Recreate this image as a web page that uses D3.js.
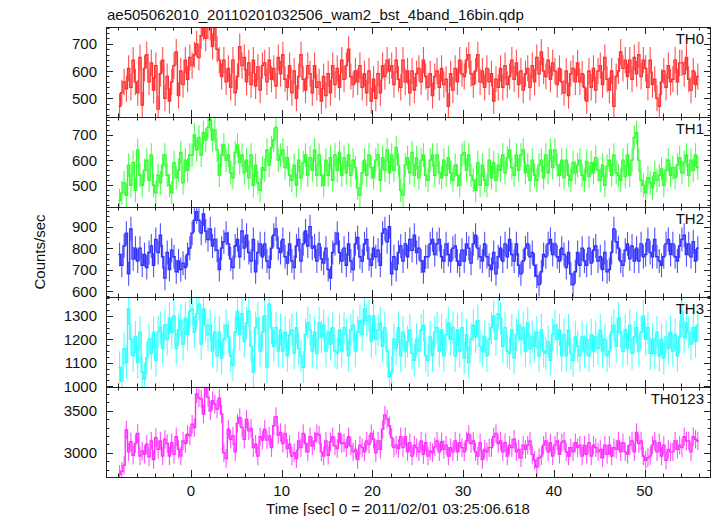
<!DOCTYPE html>
<html><head><meta charset="utf-8">
<script src="https://cdn.jsdelivr.net/npm/d3@7"></script>
<style>body{margin:0;background:#fff} svg text{font-family:"Liberation Sans",Arial,Helvetica,sans-serif;fill:#111}</style>
</head><body><svg id="c" width="717" height="516"></svg>
<script>
const titleText = "ae505062010_20110201032506_wam2_bst_4band_16bin.qdp";
const xLabel = "Time [sec] 0 = 2011/02/01 03:25:06.618";
const yLabel = "Counts/sec";
const startTime = -8, binWidth = 0.25;
const xTicks = [0, 10, 20, 30, 40, 50];
const panelNames = ["TH0", "TH1", "TH2", "TH3", "TH0123"];
const panelErrors = [48, 47, 56, 69, 110];
const yTicksTH0 = [500, 600, 700];
const yTicksTH1 = [500, 600, 700];
const yTicksTH2 = [600, 700, 800, 900];
const yTicksTH3 = [1000, 1100, 1200, 1300];
const yTicksTH0123 = [3000, 3500];

const th0 = [
470,520,560,535, 610,540,640,560, 520,650,475,610, 660,560,630,530, 620,460,590,640, 500,580,490,560,
620,670,510,600, 550,640,570,650, 620,660,700,650, 730,760,720,765, 760,690,760,680, 640,580,640,560,
610,540,640,520, 580,690,620,650, 560,630,550,640, 545,615,530,620, 630,560,640,570, 610,545,650,590,
660,570,540,620, 520,600,500,580, 660,570,530,620, 590,520,620,540, 560,490,580,510, 590,520,620,550,
610,540,640,570, 620,680,580,550, 600,560,620,540, 590,520,600,490, 570,500,590,520, 620,580,640,600,
620,550,640,570, 540,640,560,600, 520,600,530,590, 610,560,640,580, 540,590,510,580, 600,540,610,550,
570,470,590,530, 610,560,640,590, 580,640,660,590, 550,600,660,560, 600,540,610,560, 590,490,570,540,
610,540,620,550, 580,640,570,630, 550,600,530,590, 610,540,620,560, 650,590,670,600, 580,640,570,630,
600,550,610,560, 520,600,510,590, 610,560,630,560, 590,540,490,600, 540,610,530,600, 620,550,650,570,
530,600,470,580, 600,670,610,640, 580,640,570,650, 590,660,580,640, 610,540,640,550, 570,500,470,560,
600,540,620,560, 570,640,560,630, 630,590,650,570, 530,600,550,580];

const th1 = [
440,470,510,460, 580,500,590,480, 640,540,500,560, 600,520,620,500, 470,540,510,580, 620,540,500,470,
590,530,560,630, 510,600,560,620, 620,700,640,690, 620,710,680,730, 760,680,720,640, 540,620,660,600,
620,550,530,630, 660,590,620,550, 600,530,620,500, 580,510,480,570, 560,640,580,650, 680,730,600,620,
640,570,610,540, 520,580,500,600, 530,590,620,540, 610,560,640,540, 620,540,500,600, 540,610,520,620,
560,630,540,610, 550,620,540,600, 570,490,460,550, 600,540,620,570, 530,600,620,520, 610,560,640,550,
620,560,650,580, 480,460,580,610, 550,630,540,610, 530,600,620,540, 520,600,620,540, 620,550,530,600,
540,610,550,520, 580,540,500,620, 630,560,620,540, 520,480,590,500, 580,520,500,600, 530,590,520,580,
560,620,550,610, 640,570,540,620, 560,620,640,550, 580,520,600,540, 520,580,600,530, 620,550,640,570,
640,580,540,600, 530,600,540,520, 590,550,580,600, 540,520,595,535, 590,550,610,560, 520,580,500,575,
600,540,620,550, 540,520,600,535, 620,540,600,690, 710,600,520,500, 470,530,510,490, 550,520,540,565,
500,560,600,540, 570,530,580,610, 550,590,620,540, 600,560,620,570];

const th2 = [
770,720,810,870, 680,890,750,800, 740,800,720,770, 710,780,810,720, 840,780,860,760, 660,780,700,790,
760,690,740,700, 730,710,770,800, 870,930,970,930, 870,960,880,840, 890,810,840,790, 700,800,830,870,
820,750,710,810, 840,760,880,800, 860,780,740,840, 690,780,820,760, 820,740,710,800, 860,890,800,780,
840,760,730,820, 740,710,810,840, 740,820,880,810, 900,800,810,740, 820,750,730,800, 700,660,780,820,
870,780,740,800, 720,820,740,700, 820,850,760,740, 820,840,750,720, 800,760,790,720, 870,890,830,900,
680,760,700,780, 810,740,820,760, 840,790,860,780, 800,740,690,760, 760,820,840,770, 820,840,760,740,
820,770,740,800, 810,740,720,790, 740,820,800,730, 820,860,800,760, 740,820,760,720, 700,780,680,760,
800,740,820,760, 840,770,740,820, 720,680,740,800, 820,760,780,720, 670,630,690,770, 760,820,840,770,
820,760,740,800, 770,710,780,680, 630,690,780,720, 800,740,720,800, 730,790,810,740, 760,700,780,690,
700,780,890,830, 800,740,720,790, 820,750,810,740, 800,740,820,760, 770,840,780,760, 840,760,740,720,
760,820,840,770, 820,760,740,810, 840,860,770,820, 760,830,740,800];

const th3 = [
1080,1020,1160,1100, 1330,1200,1130,1210, 1100,1230,1060,1030, 1120,1200,1140,1230, 1110,1230,1250,1160,
1260,1200,1290,1230, 1300,1160,1240,1280, 1180,1290,1220,1320, 1330,1230,1310,1350, 1180,1330,1260,1220,
1260,1150,1230,1130, 1230,1120,1200,1260, 1210,1130,1090,1230, 1320,1220,1310,1190, 1270,1320,1170,1060,
1250,1290,1150,1230, 1300,1080,1350,1250, 1170,1250,1150,1240, 1150,1230,1130,1220, 1240,1140,1250,1160,
1130,1080,1220,1270, 1240,1150,1230,1140, 1270,1210,1260,1150, 1230,1180,1250,1150, 1140,1240,1150,1250,
1220,1130,1240,1260, 1150,1230,1280,1220, 1330,1280,1300,1190, 1300,1200,1240,1270, 1170,1250,1150,1040,
1060,1200,1160,1250, 1130,1230,1150,1190, 1240,1140,1110,1200, 1150,1240,1260,1130, 1110,1210,1130,1230,
1250,1150,1240,1130, 1220,1270,1200,1250, 1130,1240,1150,1250, 1120,1220,1100,1200, 1260,1210,1280,1170,
1150,1210,1130,1200, 1250,1300,1200,1310, 1290,1170,1250,1150, 1140,1240,1120,1220, 1260,1200,1250,1150,
1270,1160,1210,1170, 1230,1130,1240,1150, 1140,1190,1110,1220, 1260,1200,1240,1130, 1220,1130,1240,1140,
1110,1210,1170,1130, 1210,1150,1200,1130, 1220,1150,1210,1160, 1240,1150,1200,1130, 1150,1230,1260,1170,
1290,1230,1150,1240, 1160,1260,1140,1210, 1250,1150,1230,1300, 1200,1250,1140,1200, 1140,1230,1130,1200,
1120,1210,1160,1230, 1150,1220,1130,1210, 1320,1210,1270,1230, 1180,1250,1190,1260];

const th0123 = [
2740,2780,2850,3270, 3010,3130,2970,3110, 3230,2960,3020,2980, 3100,2950,3140,2920, 3180,3040,3140,2960,
3160,3110,2960,3120, 2980,3190,3040,2960, 3140,3110,3220,3200, 3340,3300,3700,3650, 3640,3460,3780,3660,
3500,3620,3580,3520, 3650,3460,3000,2930, 3280,3160,3200,3010, 3350,3420,3300,3160, 3400,3260,3290,3060,
3100,2960,3190,3150, 3280,3150,3200,3060, 3320,3430,3210,3240, 3110,3230,3050,3100, 2960,3000,2930,3140,
3060,3230,3110,3010, 3190,3080,3140,3230, 3210,3010,2960,3140, 2970,3130,3190,3080, 3050,3230,3110,3120,
3060,3190,3080,3010, 3040,2920,3090,3060, 3010,3140,3100,3230, 3160,3000,3140,3040, 3280,3450,3400,3320,
3180,3060,3090,3050, 3190,3060,3190,3010, 3120,2960,3090,3060, 3010,3140,2980,3120, 2960,3020,3000,3070,
3140,3010,3130,3040, 3090,2960,3060,3010, 3140,3010,3120,3060, 3010,3140,3220,3110, 3140,3010,2960,3120,
2920,3040,3010,3060, 3060,3190,3230,3110, 3140,3010,3120,2960, 3090,3060,3160,3010, 3040,2940,3090,3040,
3090,3140,2980,2910, 2830,2940,2960,3090, 3140,3010,3120,2960, 3090,3140,2980,3120, 3140,3010,2960,3060,
3010,3120,3060,3090, 2960,3090,2980,3120, 2960,3090,3060,3010, 3040,2940,3090,2980, 3090,2960,3060,3040,
3140,3010,3120,3010, 2980,3090,3140,3010, 3240,3110,3140,2960, 2910,2940,2960,3090, 3140,3010,3120,2960,
3090,2910,3040,3010, 3010,3140,3040,3090, 3060,3190,3140,3140, 3010,3190,3160,3140];

const seriesList = [th0, th1, th2, th3, th0123];
const tickLists = [yTicksTH0, yTicksTH1, yTicksTH2, yTicksTH3, yTicksTH0123];
const colors = ["#ff3030", "#30ff30", "#3030ff", "#30ffff", "#ff30ff"];
const yDomains = [[431, 762], [414, 771], [572, 992], [996, 1381], [2711, 3782]];
const minorSteps = [20, 20, 25, 25, 100];

const svg = d3.select("#c");
const plotLeft = 106, plotRight = 711, plotTop = 27, panelH = 90;
const x = d3.scaleLinear().domain([-9.37, 57.33]).range([plotLeft, plotRight]);
const frameColor = "#222";

svg.append("text").attr("x", 107).attr("y", 20).attr("font-size", 15).text(titleText);

seriesList.forEach((vals, p) => {
  const y0 = plotTop + p * panelH, y1 = y0 + panelH;
  const y = d3.scaleLinear().domain(yDomains[p]).range([y1, y0]);
  const g = svg.append("g");
  const clipId = "clip" + p;
  svg.append("clipPath").attr("id", clipId).append("rect")
    .attr("x", plotLeft).attr("y", y0).attr("width", plotRight - plotLeft).attr("height", panelH);
  const pts = vals.map((v, i) => ({t: startTime + (i + 0.5) * binWidth, v}));
  const dg = g.append("g").attr("clip-path", `url(#${clipId})`);
  const err = panelErrors[p];
  dg.selectAll("line.err").data(pts).enter().append("line")
    .attr("x1", d => x(d.t)).attr("x2", d => x(d.t))
    .attr("y1", d => y(d.v - err)).attr("y2", d => y(d.v + err))
    .attr("stroke", colors[p]).attr("stroke-width", 1.1).attr("stroke-opacity", 0.85);
  const line = d3.line().x(d => x(d.t)).y(d => y(d.v)).curve(d3.curveStep);
  const ext = [{t: pts[0].t - binWidth / 2, v: pts[0].v}, ...pts, {t: pts[pts.length - 1].t + binWidth / 2, v: pts[pts.length - 1].v}];
  dg.append("path").attr("d", line(ext)).attr("fill", "none")
    .attr("stroke", colors[p]).attr("stroke-width", 1.4);

  g.append("rect").attr("x", plotLeft + 0.5).attr("y", y0 + 0.5).attr("width", plotRight - plotLeft - 1).attr("height", panelH)
    .attr("fill", "none").attr("stroke", frameColor).attr("stroke-width", 1);
  const [ymin, ymax] = yDomains[p];
  const mstep = minorSteps[p];
  const minors = d3.range(Math.ceil(ymin / mstep) * mstep, ymax, mstep);
  const majors = tickLists[p];
  minors.forEach(v => {
    const isMaj = majors.includes(v);
    const L = isMaj ? 7 : 3.5;
    const yy = Math.round(y(v)) + 0.5;
    g.append("line").attr("x1", plotLeft).attr("x2", plotLeft + L).attr("y1", yy).attr("y2", yy).attr("stroke", frameColor);
    g.append("line").attr("x1", plotRight).attr("x2", plotRight - L).attr("y1", yy).attr("y2", yy).attr("stroke", frameColor);
  });
  majors.forEach(v => {
    g.append("text").attr("x", 97).attr("y", y(v) + 5.5).attr("text-anchor", "end")
      .attr("font-size", 15).text(v);
  });
  d3.range(-8, 57, 2).forEach(t => {
    const isMaj = t % 10 === 0;
    const L = isMaj ? 7 : 3.5;
    const xx = Math.round(x(t)) + 0.5;
    g.append("line").attr("x1", xx).attr("x2", xx).attr("y1", y0).attr("y2", y0 + L).attr("stroke", frameColor);
    g.append("line").attr("x1", xx).attr("x2", xx).attr("y1", y1).attr("y2", y1 - L).attr("stroke", frameColor);
  });
  g.append("text").attr("x", 704).attr("y", y0 + 17).attr("text-anchor", "end")
    .attr("font-size", 15).text(panelNames[p]);
});

const plotBottom = plotTop + 5 * panelH;
xTicks.forEach(t => {
  svg.append("text").attr("x", x(t)).attr("y", plotBottom + 19).attr("text-anchor", "middle")
    .attr("font-size", 15).text(t);
});
svg.append("text").attr("x", 398).attr("y", plotBottom + 37).attr("text-anchor", "middle")
  .attr("font-size", 15).text(xLabel);
svg.append("text").attr("transform", `translate(45,${(plotTop + plotBottom) / 2}) rotate(-90)`)
  .attr("text-anchor", "middle").attr("font-size", 15).text(yLabel);
</script></body></html>
